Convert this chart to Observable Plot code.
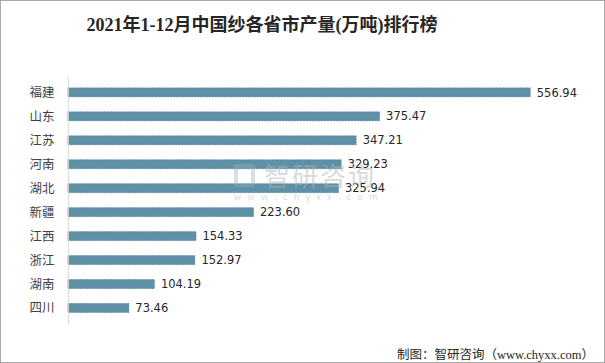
<!DOCTYPE html>
<html><head><meta charset="utf-8">
<script src="https://cdn.jsdelivr.net/npm/d3@7"></script>
<script src="https://cdn.jsdelivr.net/npm/@observablehq/plot@0.6"></script>
<style>
html,body{margin:0;padding:0;background:#fff;}
#wrap{position:relative;width:605px;height:363px;box-sizing:border-box;border:1px solid #a9a9a9;overflow:hidden;background:#fff;}
#title{position:absolute;top:9px;left:261px;transform:translateX(-50%);white-space:nowrap;font-family:"Liberation Serif","DejaVu Serif","Noto Sans CJK SC",serif;font-weight:bold;font-size:18px;color:#262626;}
#chart{position:absolute;top:-1px;left:-1px;}
#wm{position:absolute;left:232px;top:158px;white-space:nowrap;color:rgba(175,180,185,0.5);font-family:"Noto Sans CJK SC",sans-serif;pointer-events:none;}
#wm .big{font-size:26px;line-height:32px;letter-spacing:2px;padding-left:31px;white-space:nowrap;}
#wm .small{font-size:9px;line-height:10px;letter-spacing:6.3px;padding-left:1px;margin-top:1px;white-space:nowrap;}
#wm .logo{position:absolute;left:1px;top:5px;width:21px;height:23px;border:4px solid rgba(150,175,200,0.4);box-sizing:border-box;border-radius:3px;}
#footer{position:absolute;right:10px;top:343px;font-family:"Liberation Serif","Noto Sans CJK SC",serif;font-size:12.5px;color:#262626;white-space:nowrap;}
</style></head>
<body>
<div id="wrap">
  <div id="chart"></div>
  <div id="title">2021年1-12月中国纱各省市产量(万吨)排行榜</div>
  <div id="wm"><div class="logo"></div><div class="big">智研咨询</div><div class="small">www.chyxx.com</div></div>
  <div id="footer">制图：智研咨询（www.chyxx.com）</div>
</div>
<script>
const provinces = ["福建","山东","江苏","河南","湖北","新疆","江西","浙江","湖南","四川"];
const output = [556.94,375.47,347.21,329.23,325.94,223.60,154.33,152.97,104.19,73.46];

const data = provinces.map((p,i)=>({province:p, value:output[i]}));

const chart = Plot.plot({
  width:605, height:363,
  marginTop:77, marginBottom:38, marginLeft:68, marginRight:38,
  style:{background:"transparent", fontFamily:"'Noto Sans CJK SC', sans-serif"},
  x:{domain:[0,600], axis:null},
  y:{domain:provinces, paddingInner:0.62, paddingOuter:0.31, label:null},
  marks:[
    Plot.barX(data,{y:"province", x:"value", fill:"#5e90a6", stroke:"#4b7a8f", strokeWidth:0.6, strokeDasharray:"2,1"}),
    Plot.ruleX([0],{stroke:"#d9d9d9", strokeWidth:1}),
    Plot.axisY({tickSize:0, tickPadding:14, fontSize:12.5, color:"#404040", label:null}),
    Plot.text(data,{y:"province", x:"value", text:d=>d.value.toFixed(2), dx:6, textAnchor:"start", fontSize:11.5, fill:"#262626", fontFamily:"'DejaVu Sans', sans-serif"})
  ]
});
document.getElementById("chart").appendChild(chart);
</script>
</body></html>
